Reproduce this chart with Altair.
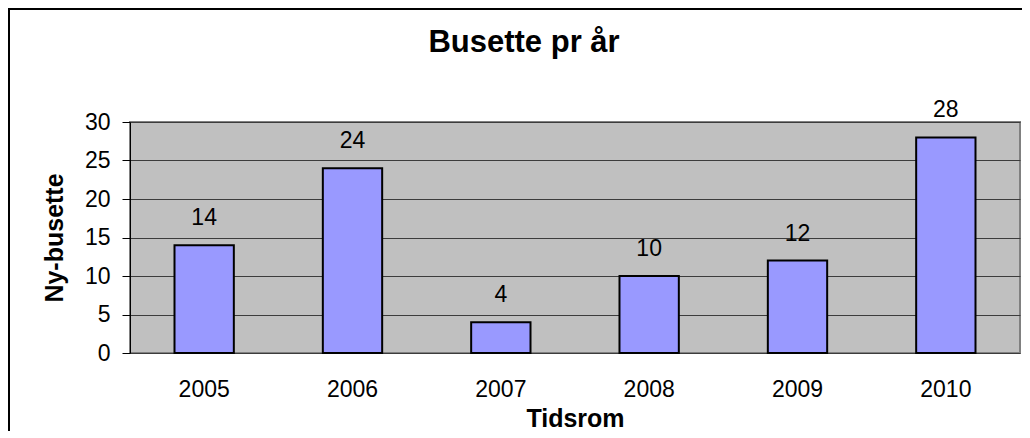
import altair as alt
import pandas as pd

years = ["2005", "2006", "2007", "2008", "2009", "2010"]
values = [14, 24, 4, 10, 12, 28]
chart_title = "Busette pr år"

df = pd.DataFrame({"year": years, "value": values})
FONT = "Liberation Sans"

x_enc = alt.X(
    "year:N",
    sort=years,
    scale=alt.Scale(paddingInner=0.6, paddingOuter=0.3),
    axis=alt.Axis(
        title="Tidsrom", titleFont=FONT, titleFontSize=25, titleFontWeight="bold",
        titleColor="black", titleBaseline="alphabetic", titleY=73,
        labelFont=FONT, labelFontSize=23, labelColor="black", labelPadding=25,
        labelAngle=0, ticks=False, domain=False, grid=False,
    ),
)
y_enc = alt.Y(
    "value:Q",
    scale=alt.Scale(domain=[0, 30], nice=False),
    axis=alt.Axis(
        title="Ny-busette", titleFont=FONT, titleFontSize=25, titleFontWeight="bold",
        titleColor="black", titleBaseline="alphabetic", titleX=-68, titleAngle=270,
        labelFont=FONT, labelFontSize=23, labelColor="black", labelPadding=12,
        values=[0, 5, 10, 15, 20, 25, 30], labelOverlap=False,
        tickSize=8, tickColor="black",
        domainColor="black", domainWidth=1,
        grid=True, gridColor="#3c3c3c", gridWidth=1,
    ),
)

bars = alt.Chart(df).mark_bar(color="#9999FF", stroke="black", strokeWidth=2).encode(
    x=x_enc, y=y_enc
)
labels = alt.Chart(df).mark_text(
    font=FONT, fontSize=23, color="black", baseline="alphabetic", dy=-20
).encode(x=x_enc, y=y_enc, text="value:Q")

deco = pd.DataFrame({"t": [chart_title]})
border = alt.Chart(deco).mark_rect(
    fill="white", fillOpacity=0, stroke="black", strokeWidth=2
).encode(
    x=alt.value(-121), x2=alt.value(1000), y=alt.value(-113), y2=alt.value(500)
)
title = alt.Chart(deco).mark_text(
    font=FONT, fontSize=31, fontWeight="bold", color="black",
    align="center", baseline="alphabetic",
).encode(x=alt.value(394), y=alt.value(-70), text="t:N")

chart = alt.layer(bars, labels, border, title).properties(
    width=890,
    height=231,
    autosize="none",
    padding={"left": 122, "top": 114, "right": 2, "bottom": 78},
).configure(
    background="white"
).configure_view(
    fill="#C0C0C0", stroke="#808080", strokeWidth=2
)

chart.save("out.html", embed_options={"renderer": "svg", "actions": False})
